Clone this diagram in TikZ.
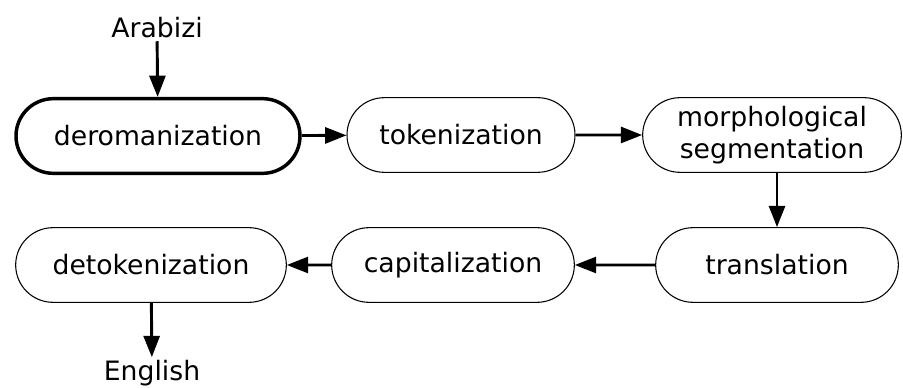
\documentclass[tikz,border=0pt]{standalone}
\usepackage{fontspec}
\setmainfont{DejaVu Sans}
\usetikzlibrary{shapes.misc,arrows.meta}
\tikzset{
	stage/.style={draw, rounded rectangle, line width=0.8pt, minimum height=56pt, inner sep=0pt, align=center},
	endtext/.style={inner sep=2pt},
	flow/.style={-{Triangle[length=16pt,width=12pt]}, line width=2.2pt},
}
\begin{document}
\begin{tikzpicture}[x=0.75pt, y=-0.75pt, font=\fontsize{20}{24}\selectfont]
	\useasboundingbox (0,0) rectangle (903,388);
	% top row
	\node[endtext] (arabizi) at (157,28) {Arabizi};
	\node[stage, line width=2.6pt, minimum width=213pt] (derom) at (158,136) {deromanization};
	\node[stage, minimum width=171pt] (token) at (461,135) {tokenization};
	\node[stage, minimum width=194pt] (morph) at (772,135) {morphological\\segmentation};
	% bottom row
	\node[stage, minimum width=182pt] (transl) at (777,265) {translation};
	\node[stage, minimum width=182pt] (capit) at (453,265) {capitalization};
	\node[stage, minimum width=203pt] (detok) at (151,265) {detokenization};
	\node[endtext] (english) at (152,373) {English};
	% connectors
	\draw[flow] (arabizi) -- (derom);
	\draw[flow] (derom) -- (token);
	\draw[flow] (token) -- (morph);
	\draw[flow] (morph.south -| transl.north) -- (transl.north);
	\draw[flow] (transl) -- (capit);
	\draw[flow] (capit) -- (detok);
	\draw[flow] (detok) -- (english);
\end{tikzpicture}
\end{document}
